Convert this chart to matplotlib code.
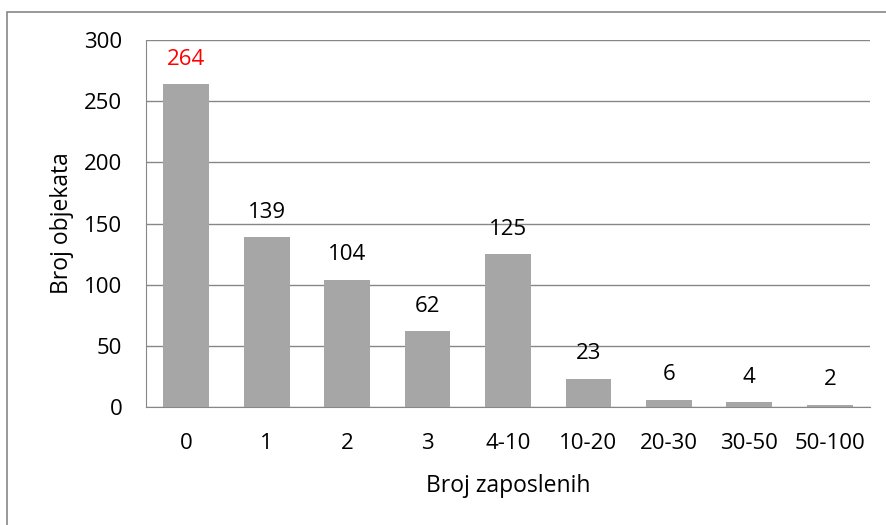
import matplotlib
matplotlib.use("Agg")
import matplotlib.pyplot as plt
from matplotlib.patches import Rectangle

categories = ["0", "1", "2", "3", "4-10", "10-20", "20-30", "30-50", "50-100"]
values = [264, 139, 104, 62, 125, 23, 6, 4, 2]
label_colors = ["#ff0000"] + ["#000000"] * 8
y_ticks = [0, 50, 100, 150, 200, 250, 300]

plt.rcParams["font.family"] = ["Open Sans", "DejaVu Sans"]

W, H = 887, 525
fig = plt.figure(figsize=(W / 100, H / 100), dpi=100)

# outer chart frame (partly clipped at the right and bottom)
fig.patches.append(Rectangle((7 / W, -0.1), 1.2, 1 - 12 / H + 0.1,
                             transform=fig.transFigure, fill=False,
                             edgecolor="#888888", linewidth=1.2))

ax = fig.add_axes([146 / W, 1 - 407 / H, (870 - 146) / W, (407 - 40) / H])
x = range(len(categories))
ax.bar(x, values, width=0.57, color="#a6a6a6", zorder=3)
ax.set_xlim(-0.5, len(categories) - 0.5)
ax.set_ylim(0, 300)
ax.set_yticks(y_ticks)
ax.set_xticks(list(x))
ax.set_xticklabels(categories)
ax.tick_params(axis="both", length=0, labelsize=16, colors="#000000")
ax.tick_params(axis="y", pad=17)
ax.tick_params(axis="x", pad=19)
ax.grid(axis="y", color="#878787", linewidth=1, zorder=0)
for s in ["top", "right"]:
    ax.spines[s].set_visible(False)
ax.spines["bottom"].set_color("#878787")
ax.spines["left"].set_color("#878787")

for i, (v, c) in enumerate(zip(values, label_colors)):
    ax.annotate(str(v), (i, v), xytext=(0, 14), textcoords="offset points",
                ha="center", va="baseline", fontsize=16, color=c)

ax.set_ylabel("Broj objekata", fontsize=16.5, labelpad=7)
ax.set_xlabel("Broj zaposlenih", fontsize=16.5, labelpad=14)

fig.savefig("out.png", dpi=100)
